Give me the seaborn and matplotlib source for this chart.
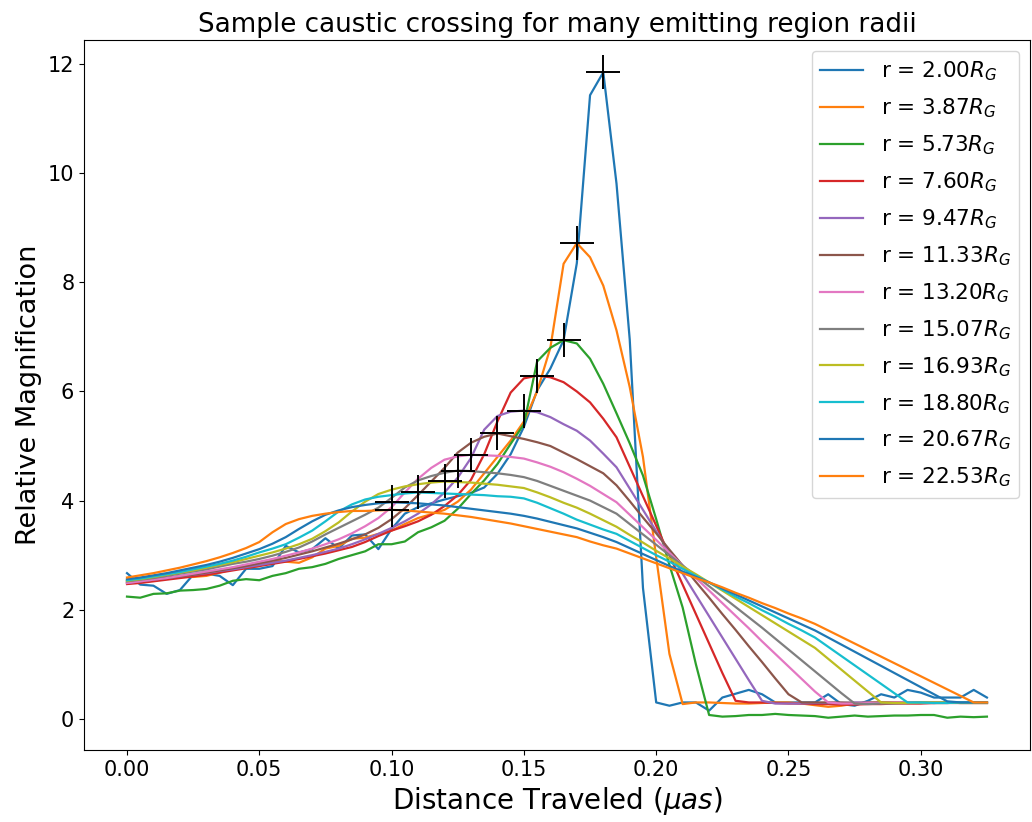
import numpy as np
import pandas as pd
import matplotlib
matplotlib.use("Agg")
import matplotlib.pyplot as plt
import seaborn as sns

# ---- data -------------------------------------------------------------
distance = [round(0.005 * i, 3) for i in range(66)]

radii = ["2.00", "3.87", "5.73", "7.60", "9.47", "11.33",
         "13.20", "15.07", "16.93", "18.80", "20.67", "22.53"]

mag_r200 = [2.67, 2.46, 2.44, 2.29, 2.36, 2.64, 2.66, 2.62, 2.45, 2.75,
            2.75, 2.80, 3.17, 3.05, 3.11, 3.31, 3.12, 3.36, 3.38, 3.11,
            3.48, 3.76, 3.88, 3.95, 4.02, 4.08, 4.14, 4.24, 4.49, 4.85,
            5.35, 6.02, 6.42, 6.94, 8.35, 11.43, 11.85, 9.81, 6.95, 2.40,
            0.30, 0.24, 0.30, 0.30, 0.15, 0.39, 0.46, 0.53, 0.45, 0.30,
            0.30, 0.30, 0.30, 0.45, 0.27, 0.24, 0.33, 0.45, 0.39, 0.53,
            0.48, 0.39, 0.39, 0.39, 0.53, 0.39]
mag_r387 = [2.52, 2.54, 2.56, 2.58, 2.60, 2.60, 2.62, 2.68, 2.74, 2.77,
            2.80, 2.90, 2.88, 2.86, 2.96, 3.12, 3.17, 3.30, 3.32, 3.39,
            3.45, 3.57, 3.68, 3.75, 3.83, 3.98, 4.20, 4.50, 4.80, 5.10,
            5.45, 6.00, 6.80, 8.34, 8.72, 8.46, 7.94, 7.12, 6.08, 4.80,
            2.96, 1.19, 0.27, 0.30, 0.30, 0.29, 0.28, 0.28, 0.29, 0.30,
            0.30, 0.28, 0.25, 0.22, 0.24, 0.28, 0.30, 0.30, 0.30, 0.29,
            0.29, 0.30, 0.30, 0.30, 0.30, 0.30]
mag_r573 = [2.24, 2.22, 2.29, 2.30, 2.35, 2.36, 2.38, 2.44, 2.53, 2.56,
            2.54, 2.62, 2.67, 2.75, 2.78, 2.84, 2.93, 3.00, 3.07, 3.20,
            3.20, 3.25, 3.42, 3.51, 3.63, 3.85, 4.12, 4.37, 4.67, 5.04,
            5.40, 6.55, 6.80, 6.94, 6.88, 6.60, 6.14, 5.60, 5.05, 4.46,
            3.66, 2.82, 2.04, 1.00, 0.07, 0.04, 0.05, 0.07, 0.07, 0.09,
            0.07, 0.06, 0.05, 0.02, 0.04, 0.06, 0.04, 0.05, 0.06, 0.06,
            0.07, 0.07, 0.02, 0.04, 0.03, 0.04]
mag_r760 = [2.47, 2.49, 2.52, 2.55, 2.58, 2.61, 2.64, 2.68, 2.72, 2.76,
            2.80, 2.84, 2.88, 2.93, 2.98, 3.03, 3.09, 3.15, 3.24, 3.35,
            3.45, 3.53, 3.62, 3.74, 3.90, 4.10, 4.38, 4.85, 5.45, 5.98,
            6.24, 6.29, 6.26, 6.17, 6.00, 5.80, 5.50, 5.16, 4.62, 4.08,
            3.54, 3.00, 2.46, 1.92, 1.38, 0.84, 0.33, 0.30, 0.30, 0.29,
            0.28, 0.28, 0.27, 0.27, 0.26, 0.26, 0.27, 0.27, 0.28, 0.28,
            0.28, 0.29, 0.29, 0.29, 0.29, 0.29]
mag_r947 = [2.49, 2.52, 2.55, 2.58, 2.61, 2.64, 2.67, 2.71, 2.74, 2.78,
            2.82, 2.86, 2.90, 2.95, 3.00, 3.06, 3.12, 3.20, 3.29, 3.39,
            3.50, 3.62, 3.76, 3.93, 4.15, 4.42, 4.78, 5.30, 5.55, 5.63,
            5.65, 5.62, 5.53, 5.40, 5.28, 5.10, 4.86, 4.61, 4.22, 3.83,
            3.44, 3.05, 2.66, 2.27, 1.88, 1.49, 1.10, 0.71, 0.33, 0.28,
            0.28, 0.28, 0.29, 0.29, 0.29, 0.30, 0.30, 0.29, 0.29, 0.29,
            0.30, 0.30, 0.30, 0.29, 0.29, 0.29]
mag_r1133 = [2.50, 2.52, 2.55, 2.58, 2.61, 2.64, 2.68, 2.72, 2.76, 2.80,
             2.85, 2.90, 2.95, 3.01, 3.07, 3.14, 3.21, 3.29, 3.38, 3.50,
             3.66, 3.86, 4.10, 4.35, 4.60, 4.88, 5.06, 5.17, 5.23, 5.18,
             5.13, 5.07, 5.00, 4.88, 4.76, 4.63, 4.50, 4.28, 3.99, 3.69,
             3.40, 3.10, 2.81, 2.51, 2.22, 1.92, 1.63, 1.33, 1.04, 0.74,
             0.45, 0.30, 0.30, 0.30, 0.30, 0.29, 0.29, 0.30, 0.30, 0.30,
             0.30, 0.29, 0.29, 0.30, 0.30, 0.30]
mag_r1320 = [2.49, 2.52, 2.55, 2.58, 2.62, 2.66, 2.70, 2.74, 2.78, 2.83,
             2.88, 2.93, 2.99, 3.05, 3.12, 3.20, 3.29, 3.40, 3.53, 3.68,
             3.88, 4.15, 4.40, 4.60, 4.75, 4.81, 4.84, 4.83, 4.82, 4.80,
             4.77, 4.70, 4.62, 4.52, 4.40, 4.27, 4.12, 3.97, 3.74, 3.51,
             3.28, 3.04, 2.81, 2.58, 2.35, 2.12, 1.89, 1.66, 1.42, 1.19,
             0.96, 0.73, 0.50, 0.30, 0.28, 0.28, 0.29, 0.29, 0.30, 0.30,
             0.29, 0.29, 0.30, 0.30, 0.30, 0.30]
mag_r1507 = [2.52, 2.55, 2.58, 2.62, 2.66, 2.70, 2.74, 2.79, 2.84, 2.88,
             2.93, 2.99, 3.06, 3.14, 3.25, 3.38, 3.50, 3.62, 3.74, 3.87,
             4.05, 4.24, 4.37, 4.45, 4.51, 4.55, 4.54, 4.52, 4.50, 4.47,
             4.43, 4.36, 4.27, 4.18, 4.09, 4.00, 3.88, 3.76, 3.57, 3.38,
             3.19, 3.00, 2.81, 2.62, 2.43, 2.24, 2.05, 1.86, 1.67, 1.47,
             1.27, 1.07, 0.87, 0.67, 0.47, 0.28, 0.27, 0.28, 0.28, 0.29,
             0.29, 0.29, 0.30, 0.30, 0.30, 0.30]
mag_r1693 = [2.53, 2.56, 2.60, 2.64, 2.68, 2.72, 2.77, 2.82, 2.87, 2.93,
             2.99, 3.05, 3.12, 3.20, 3.30, 3.44, 3.60, 3.80, 3.98, 4.12,
             4.20, 4.26, 4.30, 4.33, 4.35, 4.34, 4.33, 4.31, 4.29, 4.26,
             4.23, 4.15, 4.06, 3.96, 3.87, 3.76, 3.64, 3.52, 3.37, 3.23,
             3.08, 2.94, 2.79, 2.65, 2.50, 2.35, 2.20, 2.05, 1.90, 1.75,
             1.60, 1.45, 1.30, 1.10, 0.90, 0.70, 0.50, 0.30, 0.29, 0.29,
             0.30, 0.30, 0.30, 0.29, 0.29, 0.29]
mag_r1880 = [2.54, 2.57, 2.61, 2.65, 2.69, 2.74, 2.79, 2.84, 2.90, 2.97,
             3.05, 3.12, 3.20, 3.32, 3.45, 3.62, 3.80, 3.93, 4.02, 4.07,
             4.10, 4.13, 4.15, 4.14, 4.13, 4.12, 4.11, 4.10, 4.08, 4.07,
             4.04, 3.96, 3.86, 3.76, 3.65, 3.56, 3.47, 3.39, 3.26, 3.13,
             3.00, 2.88, 2.75, 2.62, 2.50, 2.37, 2.24, 2.12, 1.99, 1.87,
             1.74, 1.62, 1.49, 1.32, 1.15, 0.98, 0.81, 0.64, 0.47, 0.30,
             0.30, 0.29, 0.29, 0.30, 0.30, 0.30]
mag_r2067 = [2.56, 2.59, 2.63, 2.67, 2.72, 2.77, 2.82, 2.88, 2.95, 3.03,
             3.11, 3.21, 3.33, 3.48, 3.62, 3.74, 3.82, 3.88, 3.92, 3.95,
             3.97, 3.96, 3.95, 3.93, 3.91, 3.88, 3.85, 3.82, 3.79, 3.76,
             3.72, 3.67, 3.61, 3.55, 3.49, 3.41, 3.33, 3.24, 3.13, 3.02,
             2.91, 2.80, 2.70, 2.60, 2.50, 2.39, 2.28, 2.17, 2.06, 1.95,
             1.84, 1.73, 1.62, 1.49, 1.36, 1.23, 1.10, 0.97, 0.84, 0.71,
             0.58, 0.45, 0.32, 0.30, 0.30, 0.30]
mag_r2253 = [2.59, 2.63, 2.67, 2.72, 2.77, 2.83, 2.89, 2.96, 3.04, 3.13,
             3.24, 3.42, 3.57, 3.66, 3.72, 3.76, 3.79, 3.81, 3.81, 3.82,
             3.83, 3.82, 3.80, 3.78, 3.76, 3.73, 3.70, 3.66, 3.62, 3.58,
             3.53, 3.48, 3.43, 3.38, 3.33, 3.25, 3.18, 3.12, 3.03, 2.94,
             2.85, 2.76, 2.67, 2.58, 2.50, 2.41, 2.31, 2.22, 2.12, 2.03,
             1.93, 1.84, 1.74, 1.62, 1.50, 1.38, 1.26, 1.14, 1.02, 0.90,
             0.78, 0.66, 0.54, 0.42, 0.30, 0.30]

series = [mag_r200, mag_r387, mag_r573, mag_r760, mag_r947, mag_r1133,
          mag_r1320, mag_r1507, mag_r1693, mag_r1880, mag_r2067, mag_r2253]

# ---- build long table --------------------------------------------------
labels = [f"r = {r}$R_G$" for r in radii]
frames = []
peaks = []
for lab, vals in zip(labels, series):
    frames.append(pd.DataFrame({"distance": distance, "mag": vals, "label": lab}))
    k = int(np.argmax(vals))
    peaks.append((distance[k], vals[k]))
df = pd.concat(frames, ignore_index=True)
peak_df = pd.DataFrame(peaks, columns=["distance", "mag"])

tab10 = sns.color_palette("tab10", 10)
palette = [tab10[i % 10] for i in range(len(labels))]

# ---- plot ---------------------------------------------------------------
fig = plt.figure(figsize=(10.32, 8.22), dpi=100)
ax = fig.add_axes([0.0814, 0.0876, 0.9166, 0.8637])

sns.lineplot(data=df, x="distance", y="mag", hue="label", hue_order=labels,
             palette=palette, sort=False, estimator=None, linewidth=1.6, ax=ax)
sns.scatterplot(data=peak_df, x="distance", y="mag", marker="+", s=620,
                color="black", linewidth=1.4, ax=ax, legend=False, zorder=5)

ax.set_title("Sample caustic crossing for many emitting region radii", fontsize=18.8)
ax.set_xlabel(r"Distance Traveled ($\mu as$)", fontsize=20)
ax.set_ylabel("Relative Magnification", fontsize=19.5)
ax.tick_params(labelsize=15)
ax.set_xticks([0.0, 0.05, 0.10, 0.15, 0.20, 0.25, 0.30])
ax.set_xticklabels(["0.00", "0.05", "0.10", "0.15", "0.20", "0.25", "0.30"])

leg = ax.legend(loc="upper right", fontsize=15.5, title=None, labelspacing=0.62)
for line in leg.get_lines():
    line.set_linewidth(1.6)

fig.savefig("out.png", dpi=100)
